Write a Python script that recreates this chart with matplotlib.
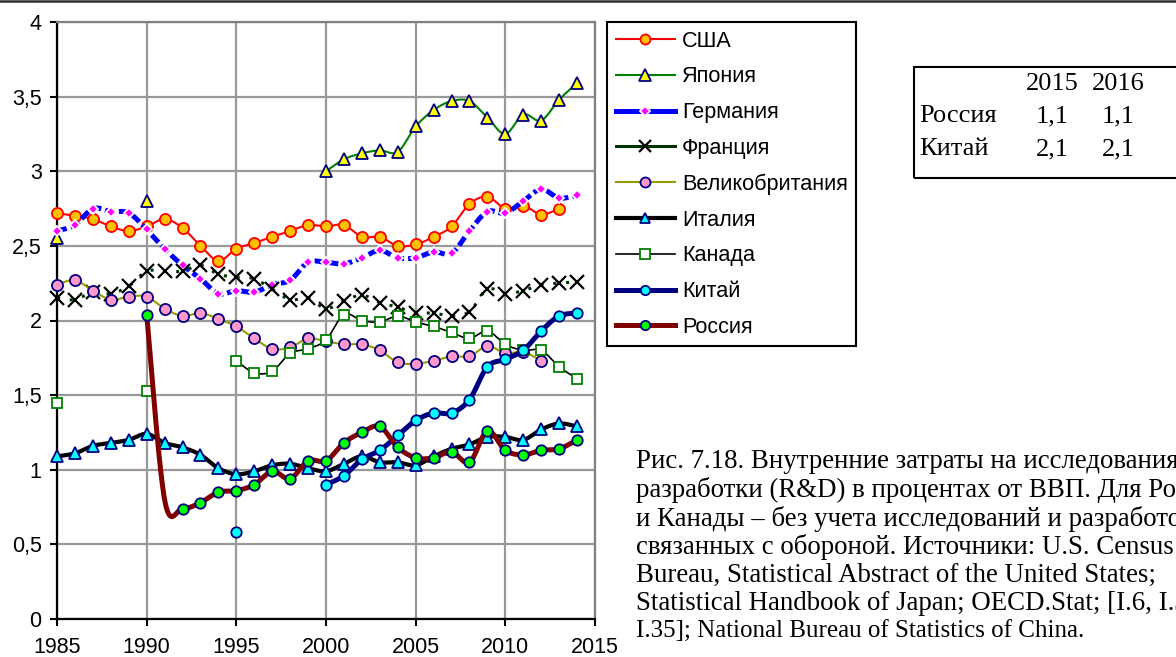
import numpy as np
import matplotlib
matplotlib.use("Agg")
import matplotlib.pyplot as plt
from matplotlib.lines import Line2D
from matplotlib.patches import Rectangle
from matplotlib.ticker import FuncFormatter, MultipleLocator

# ---------------------------------------------------------------- data
years = list(range(1985, 2015))
N = None

usa = [2.72, 2.70, 2.68, 2.63, 2.60, 2.63, 2.68, 2.62, 2.50, 2.40,
       2.48, 2.52, 2.56, 2.60, 2.64, 2.63, 2.64, 2.56, 2.56, 2.50,
       2.51, 2.56, 2.63, 2.78, 2.83, 2.75, 2.77, 2.71, 2.75, N]
japan = [2.55, N, N, N, N, 2.80, N, N, N, N,
         N, N, N, N, N, 3.00, 3.08, 3.12, 3.14, 3.13,
         3.30, 3.41, 3.47, 3.47, 3.36, 3.25, 3.38, 3.34, 3.48, 3.59]
germany = [2.60, 2.64, 2.75, 2.73, 2.72, 2.61, 2.48, 2.37, 2.28, 2.18,
           2.20, 2.19, 2.24, 2.27, 2.39, 2.39, 2.38, 2.42, 2.47, 2.42,
           2.42, 2.46, 2.45, 2.60, 2.73, 2.72, 2.80, 2.88, 2.82, 2.84]
france = [2.15, 2.14, 2.19, 2.18, 2.23, 2.33, 2.33, 2.33, 2.37, 2.31,
          2.29, 2.28, 2.21, 2.14, 2.15, 2.08, 2.13, 2.17, 2.12, 2.09,
          2.05, 2.05, 2.03, 2.06, 2.21, 2.18, 2.20, 2.24, 2.25, 2.26]
uk = [2.24, 2.27, 2.20, 2.14, 2.16, 2.16, 2.08, 2.03, 2.05, 2.01,
      1.96, 1.88, 1.81, 1.82, 1.88, 1.86, 1.84, 1.84, 1.80, 1.72,
      1.71, 1.73, 1.76, 1.76, 1.83, 1.78, 1.79, 1.73, N, N]
italy = [1.09, 1.11, 1.16, 1.18, 1.20, 1.24, 1.18, 1.15, 1.10, 1.01,
         0.97, 0.99, 1.03, 1.04, 1.01, 0.99, 1.04, 1.09, 1.05, 1.05,
         1.03, 1.09, 1.14, 1.17, 1.22, 1.22, 1.20, 1.27, 1.31, 1.29]
canada = [1.45, N, N, N, N, 1.53, N, N, N, N,
          1.73, 1.65, 1.66, 1.78, 1.81, 1.87, 2.04, 2.00, 1.99, 2.03,
          1.99, 1.96, 1.92, 1.88, 1.93, 1.84, 1.80, 1.80, 1.69, 1.61]
china = [N, N, N, N, N, N, N, N, N, N,
         0.58, N, N, N, N, 0.90, 0.96, 1.07, 1.13, 1.23,
         1.33, 1.38, 1.38, 1.47, 1.69, 1.74, 1.80, 1.93, 2.03, 2.05]
russia = [N, N, N, N, N, 2.04, 0.80, 0.74, 0.78, 0.85,
          0.86, 0.90, 0.99, 0.94, 1.06, 1.06, 1.18, 1.25, 1.29, 1.15,
          1.08, 1.08, 1.12, 1.05, 1.26, 1.13, 1.10, 1.13, 1.14, 1.20]
russia_unmarked = [1991]

series_names = ["США", "Япония", "Германия", "Франция", "Великобритания",
                "Италия", "Канада", "Китай", "Россия"]
series_values = [usa, japan, germany, france, uk, italy, canada, china, russia]

table_years = ["2015", "2016"]
table_rows = ["Россия", "Китай"]
table_values = [[1.1, 1.1], [2.1, 2.1]]

caption_lines = [
    "Рис. 7.18. Внутренние затраты на исследования и",
    "разработки (R&D) в процентах от ВВП. Для России",
    "и Канады – без учета исследований и разработок,",
    "связанных с обороной. Источники: U.S. Census",
    "Bureau, Statistical Abstract of the United States;",
    "Statistical Handbook of Japan; OECD.Stat; [I.6, I.33,",
    "I.35]; National Bureau of Statistics of China.",
]

# ---------------------------------------------------------------- styles
NAVY = "#000080"
styles = [
    dict(color="#FF0000", lw=1.5, marker="o", ms=8, mfc="#FFC000", mec="#FF0000"),
    dict(color="#008000", lw=1.5, marker="^", ms=9, mfc="#FFFF00", mec=NAVY),
    dict(color="#0000FF", lw=3.6, marker="D", ms=5.5, mfc="#FF00FF", mec="white",
         dashes=(2.0, 0.8)),
    dict(color="#003300", lw=2.2, marker="x", ms=9.5, mfc="black", mec="black",
         dashes=(1.0, 3.2), mew=1.6),
    dict(color="#999900", lw=1.5, marker="o", ms=8, mfc="#FF99CC", mec=NAVY),
    dict(color="#000000", lw=3.0, marker="^", ms=8.5, mfc="#00FFFF", mec=NAVY),
    dict(color="#000000", lw=1.2, marker="s", ms=7.5, mfc="white", mec="#008000"),
    dict(color=NAVY, lw=3.6, marker="o", ms=7.5, mfc="#00FFFF", mec=NAVY),
    dict(color="#800000", lw=3.6, marker="o", ms=7.5, mfc="#00FF00", mec=NAVY),
]

SANS = ["Liberation Sans", "DejaVu Sans"]
SERIF = ["Liberation Serif", "DejaVu Serif"]
plt.rcParams["font.family"] = SANS

W, H = 1176, 657


def fx(px):
    return px / W


def fy(py):
    return 1 - py / H


def runs(xs, ys):
    """Split a series into contiguous runs of defined values."""
    out, cur = [], []
    for x, y in zip(xs, ys):
        if y is None:
            if cur:
                out.append(cur)
                cur = []
        else:
            cur.append((x, y))
    if cur:
        out.append(cur)
    return out


def smooth(points, n=24):
    """Cubic Bezier smoothing through every point (spreadsheet style)."""
    p = np.asarray(points, float)
    if len(p) < 2:
        return p
    t = np.linspace(0, 1, n)[1:, None]
    out = [p[:1]]
    for i in range(len(p) - 1):
        p0 = p[i - 1] if i > 0 else p[i]
        p1, p2 = p[i], p[i + 1]
        p3 = p[i + 2] if i + 2 < len(p) else p[i + 1]
        c1 = p1 + (p2 - p0) / 6
        c2 = p2 - (p3 - p1) / 6
        seg = ((1 - t) ** 3) * p1 + 3 * ((1 - t) ** 2) * t * c1 \
            + 3 * (1 - t) * (t ** 2) * c2 + (t ** 3) * p2
        out.append(seg)
    return np.vstack(out)


# ---------------------------------------------------------------- figure
fig = plt.figure(figsize=(W / 100, H / 100), dpi=100)
ax = fig.add_axes([fx(57), fy(619), fx(595) - fx(57), fy(22) - fy(619)])

ax.set_xlim(1985, 2015)
ax.set_ylim(0, 4)
ax.xaxis.set_major_locator(MultipleLocator(5))
ax.yaxis.set_major_locator(MultipleLocator(0.5))
ax.yaxis.set_major_formatter(
    FuncFormatter(lambda v, _: f"{v:g}".replace(".", ",")))
ax.grid(True, color="#999999", lw=1.6)
ax.set_axisbelow(True)
for side in ("left", "bottom"):
    ax.spines[side].set_color("black")
    ax.spines[side].set_linewidth(1.6)
for side in ("top", "right"):
    ax.spines[side].set_color("#808080")
    ax.spines[side].set_linewidth(1.6)
ax.tick_params(direction="out", length=5, width=1.5, labelsize=15.5,
               colors="black")
ax.tick_params(axis="x", pad=8)
ax.tick_params(axis="y", pad=6)

for k, (vals, st) in enumerate(zip(series_values, styles)):
    z = 3 + k
    line_kw = dict(color=st["color"], lw=st["lw"], solid_capstyle="butt",
                   zorder=z)
    if "dashes" in st:
        line_kw["dashes"] = st["dashes"]
        line_kw["dash_capstyle"] = "butt"
    for run in runs(years, vals):
        if len(run) > 1:
            curve = smooth(run)
            ax.plot(curve[:, 0], curve[:, 1], **line_kw)
    skip = russia_unmarked if vals is russia else []
    mx = [x for x, y in zip(years, vals) if y is not None and x not in skip]
    my = [y for x, y in zip(years, vals) if y is not None and x not in skip]
    ax.plot(mx, my, ls="none", marker=st["marker"], ms=st["ms"],
            mfc=st["mfc"], mec=st["mec"], mew=st.get("mew", 1.3),
            zorder=z + 0.5, clip_on=False)

# ---------------------------------------------------------------- legend
handles = []
for st in styles:
    handles.append(Line2D([], [], color=st["color"], lw=st["lw"],
                          marker=st["marker"], ms=st["ms"] * 0.9,
                          mfc=st["mfc"], mec=st["mec"],
                          mew=st.get("mew", 1.3)))
leg = fig.legend(handles, series_names, loc="upper left",
                 bbox_to_anchor=(fx(607), fy(22)), frameon=True,
                 fancybox=False, edgecolor="black", framealpha=1,
                 handlelength=2.75, handletextpad=0.3,
                 labelspacing=0.68, borderpad=0.4, borderaxespad=0,
                 prop=dict(family=SANS, size=15.6))
leg.get_frame().set_linewidth(1.5)

# ---------------------------------------------------------------- small table
fig.add_artist(Rectangle((fx(914), fy(178)), fx(W + 20) - fx(914),
                         fy(67) - fy(178), transform=fig.transFigure,
                         fill=False, edgecolor="black", lw=1.5))
col_x = [1052, 1118]
table_font = dict(family=SERIF, size=19, color="black")
for j, yr in enumerate(table_years):
    fig.text(fx(col_x[j]), fy(84), yr, ha="center", va="center", **table_font)
for i, name in enumerate(table_rows):
    yy = fy(116 + 33 * i)
    fig.text(fx(919), yy, name, ha="left", va="center", **table_font)
    for j, v in enumerate(table_values[i]):
        fig.text(fx(col_x[j]), yy, f"{v:.1f}".replace(".", ","),
                 ha="center", va="center", **table_font)

# ---------------------------------------------------------------- caption
for i, line in enumerate(caption_lines):
    size = 19.4 if i < len(caption_lines) - 1 else 18.0
    fig.text(fx(636), fy(462 + 28.3 * i), line, ha="left", va="center",
             family=SERIF, size=size, color="black")

# frame line along the top edge
fig.add_artist(Line2D([0, 1], [fy(1.2), fy(1.2)], transform=fig.transFigure,
                      color="#303030", lw=1.8))

fig.savefig("out.png", dpi=100)
